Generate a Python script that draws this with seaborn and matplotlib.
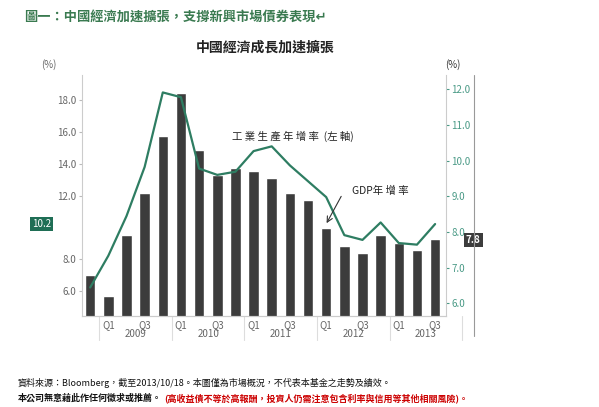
import matplotlib
matplotlib.use("Agg")
import matplotlib.pyplot as plt
import matplotlib.transforms as mtransforms
import numpy as np
import pandas as pd
import seaborn as sns

quarters = ["Q4", "Q1", "Q2", "Q3", "Q4", "Q1", "Q2", "Q3", "Q4", "Q1",
            "Q2", "Q3", "Q4", "Q1", "Q2", "Q3", "Q4", "Q1", "Q2", "Q3"]
years = ["2009", "2010", "2011", "2012", "2013"]
gdp_yoy = [6.8, 6.2, 7.9, 9.1, 10.7, 11.9, 10.3, 9.6, 9.8, 9.7,
           9.5, 9.1, 8.9, 8.1, 7.6, 7.4, 7.9, 7.7, 7.5, 7.8]
ip_yoy = [6.2, 8.2, 10.7, 13.8, 18.5, 18.2, 13.7, 13.3, 13.5, 14.8,
          15.1, 13.9, 12.9, 11.9, 9.5, 9.2, 10.3, 9.0, 8.9, 10.2]
left_ticks = [6.0, 8.0, 12.0, 14.0, 16.0, 18.0]
right_ticks = [6.0, 7.0, 8.0, 9.0, 10.0, 11.0, 12.0]

sns.set_style("white")
plt.rcParams["font.family"] = ["Noto Sans CJK TC", "DejaVu Sans"]

green = "#2e7d62"
teal = "#4a9a86"
bar_c = "#3c3c3c"
grey = "#666666"

df = pd.DataFrame({"pos": np.arange(len(gdp_yoy)), "gdp": gdp_yoy, "ip": ip_yoy})

fig = plt.figure(figsize=(5.99, 4.07), dpi=100)
ax = fig.add_axes([82 / 599, 1 - 316 / 407, 364 / 599, 241 / 407])
ax2 = ax.twinx()

sns.barplot(data=df, x="pos", y="gdp", ax=ax2, color=bar_c, width=0.58,
            native_scale=True, saturation=1)
sns.lineplot(data=df, x="pos", y="ip", ax=ax, color=green, lw=1.6)
ax.set_zorder(ax2.get_zorder() + 1)
ax.patch.set_visible(False)

ax.set_xlim(-0.45, 19.6)
ax.set_ylim(4.4, 19.6)
ax2.set_ylim(5.64, 12.4)
ax.set_yticks(left_ticks)
ax.set_yticklabels([f"{v:.1f}" for v in left_ticks], fontsize=7, color=grey)
ax2.set_yticks(right_ticks)
ax2.set_yticklabels([f"{v:.1f}" for v in right_ticks], fontsize=7, color=teal)
ax.tick_params(axis="y", length=2, color="#bbbbbb", pad=2)
ax2.tick_params(axis="y", length=2, color=teal, pad=2)
for a in (ax, ax2):
    a.set_xlabel("")
    a.set_ylabel("")
    a.spines["top"].set_visible(False)
    a.spines["bottom"].set_color("#cccccc")
ax.spines["left"].set_color("#cccccc")
ax.spines["right"].set_visible(False)
ax2.spines["left"].set_visible(False)
ax2.spines["right"].set_color("#cccccc")
ax.set_xticks([])
ax2.set_xticks([])

# quarter / year labels
tb = mtransforms.blended_transform_factory(ax.transData, ax.transAxes)
for i, q in enumerate(quarters):
    if q in ("Q1", "Q3"):
        ax.text(i, -0.015, q, transform=tb, ha="center", va="top", fontsize=7, color=grey)
for k, y in enumerate(years):
    ax.text(2.5 + 4 * k, -0.055, y, transform=tb, ha="center", va="top", fontsize=7, color=grey)
    ax.plot([0.5 + 4 * k] * 2, [0, -0.1], transform=tb, color="#dddddd", lw=0.8, clip_on=False)
ax.plot([0.5 + 4 * 5] * 2, [0, -0.1], transform=tb, color="#dddddd", lw=0.8, clip_on=False)

# axis unit labels and value tags
ax.text(-0.09, 1.03, "(%)", transform=ax.transAxes, fontsize=7, color=grey, ha="center")
ax2.text(1.02, 1.03, "(%)", transform=ax2.transAxes, fontsize=7, color="#333333", ha="center")
ax.text(-0.11, 10.2, "10.2", transform=mtransforms.blended_transform_factory(ax.transAxes, ax.transData),
        fontsize=7, color="white", ha="center", va="center",
        bbox=dict(boxstyle="square,pad=0.2", fc="#1f6e55", ec="none"))
ax2.text(1.075, 7.78, "7.8", transform=mtransforms.blended_transform_factory(ax2.transAxes, ax2.transData),
         fontsize=7, color="white", ha="center", va="center", fontweight="bold",
         bbox=dict(boxstyle="square,pad=0.2", fc="#3c3c3c", ec="none"))

ax.text(7.8, 15.7, "工 業 生 產 年 增 率  (左 軸)", fontsize=7.5, color="#222222", va="center")
ax.annotate("", xy=(12.95, 10.1), xytext=(13.9, 12.1),
            arrowprops=dict(arrowstyle="->", color="#333333", lw=0.8))
ax.text(14.4, 12.3, "GDP年 增 率", fontsize=7.5, color="#222222", va="center")

# vertical rule to the right
fig.add_artist(plt.Line2D([474 / 599] * 2, [1 - 336 / 407, 1 - 75 / 407], color="#999999", lw=0.8))

fig.text(0.04, 0.975, "圖一：中國經濟加速擴張，支撐新興市場債券表現↵", fontsize=9.5,
         color="#3a7a50", fontweight="bold", va="top")
fig.text(265 / 599, 1 - 48 / 407, "中國經濟成長加速擴張", fontsize=10, fontweight="bold",
         color="#222222", ha="center", va="center")
fig.text(0.03, 1 - 383 / 407, "資料來源：Bloomberg，截至2013/10/18。本圖僅為市場概況，不代表本基金之走勢及績效。",
         fontsize=6.5, color="#111111", va="center")
fig.text(0.03, 1 - 398 / 407, "本公司無意藉此作任何徵求或推薦。", fontsize=6.5, color="#111111",
         va="center", fontweight="bold")
fig.text(0.275, 1 - 398 / 407, "(高收益債不等於高報酬，投資人仍需注意包含利率與信用等其他相關風險)。",
         fontsize=6.5, color="#cc0000", va="center", fontweight="bold")

fig.savefig("out.png", dpi=100)
